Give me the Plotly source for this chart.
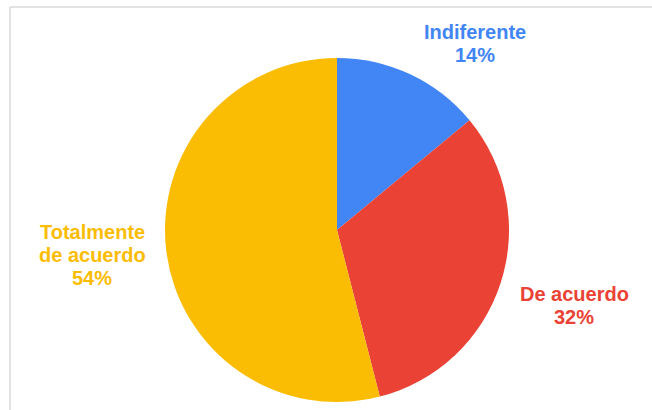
import plotly.graph_objects as go

labels = ["Indiferente", "De acuerdo", "Totalmente de acuerdo"]
label_lines = [["Indiferente"], ["De acuerdo"], ["Totalmente", "de acuerdo"]]
values = [14, 32, 54]
colors = ["#4285F4", "#EA4335", "#FBBC04"]
label_pos = [(475, 32), (574, 294), (92, 232)]  # pixel center of first line
line_step = 23

W, H = 652, 410
cx, cy, r = 337, 230, 172

fig = go.Figure(go.Pie(
    labels=labels, values=values, sort=False, direction="clockwise", rotation=0,
    marker=dict(colors=colors, line=dict(width=0)),
    textinfo="none", hoverinfo="label+percent", showlegend=False,
    domain=dict(x=[(cx - r) / W, (cx + r) / W], y=[(H - cy - r) / H, (H - cy + r) / H]),
))

anns = []
for lines, v, c, (px, py) in zip(label_lines, values, colors, label_pos):
    for i, t in enumerate(lines + [f"{v}%"]):
        anns.append(dict(
            x=px / W, y=1 - (py + i * line_step) / H, xref="paper", yref="paper",
            xanchor="center", yanchor="middle",
            text=f"<b>{t}</b>", showarrow=False, align="center",
            font=dict(family="Liberation Sans, Arial, sans-serif", size=20, color=c),
        ))

fig.update_layout(
    width=W, height=H, margin=dict(l=0, r=0, t=0, b=0),
    paper_bgcolor="white", plot_bgcolor="white",
    annotations=anns,
    shapes=[
        dict(type="line", xref="paper", yref="paper", x0=10 / W, x1=1, y0=1 - 7 / H, y1=1 - 7 / H,
             line=dict(color="#d9d9d9", width=1.5)),
        dict(type="line", xref="paper", yref="paper", x0=10 / W, x1=10 / W, y0=0, y1=1 - 7 / H,
             line=dict(color="#d9d9d9", width=1.5)),
    ],
)
fig.write_html("out.html")
